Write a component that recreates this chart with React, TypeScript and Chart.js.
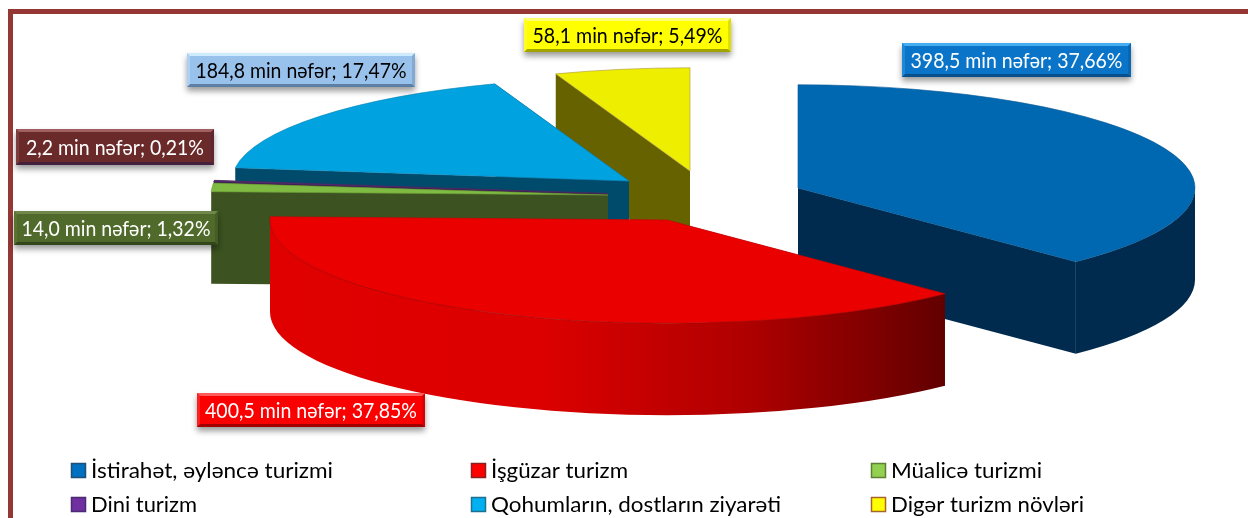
import React, { useEffect, useRef } from "react";
import { Chart, registerables } from "chart.js";

Chart.register(...registerables);

// ---- data ----
const categories = [
  "İstirahət, əyləncə turizmi",
  "İşgüzar turizm",
  "Müalicə turizmi",
  "Dini turizm",
  "Qohumların, dostların ziyarəti",
  "Digər turizm növləri",
];
const visitorValues = [398.5, 400.5, 14.0, 2.2, 184.8, 58.1];
const valueTexts = ["398,5", "400,5", "14,0", "2,2", "184,8", "58,1"];
const percentTexts = ["37,66%", "37,85%", "1,32%", "0,21%", "17,47%", "5,49%"];
const unitText = "min nəfər";

// ---- style ----
const FONT = "Lato";
const topColors = ["#0068B0", "#EB0000", "#7FBA42", "#5F2D7A", "#00A2E0", "#EEEE00"];
const edgeColors = ["#0A5A96", "#C00808", "#6A9A38", "#4A2A60", "#1088B8", "#B09A40"];
const wallColors = ["#002B4E", "#E00000", "#3C5220", "#3A1C50", "#004B6B", "#676200"];
const legendColors = ["#0070C0", "#FF0000", "#92D050", "#7030A0", "#00B0F0", "#FFFF00"];
const legendBorders = ["#1F4E79", "#8B2020", "#5F7F35", "#4A2A70", "#1F6F8F", "#A8652A"];
const centerX = [798, 667, 608, 608, 629, 690];
const centerY = [188, 220, 195, 193.5, 181, 171];
const drawOrder = [5, 4, 3, 2, 0, 1];
const TILT = 0.26;
const DEPTH = 92;
const RADIUS = 397;

const labelBoxes = [
  { x: 902, y: 43, w: 229, h: 34, tw: 212, fs: 22, base: "#0A74C8", hi: "#46AEF0", lo: "#07508C", text: "#FFFFFF" },
  { x: 197, y: 393, w: 228, h: 34, tw: 212, fs: 21, base: "#FB0000", hi: "#FF5A5A", lo: "#A00000", text: "#FFFFFF" },
  { x: 14, y: 211, w: 204, h: 34, tw: 189, fs: 21, base: "#4F6A2A", hi: "#6F8748", lo: "#33451B", text: "#FFFFFF" },
  { x: 16, y: 129, w: 198, h: 36, tw: 178, fs: 21, base: "#6B2A2A", hi: "#A06060", lo: "#44203F", text: "#FFFFFF" },
  { x: 187, y: 53, w: 228, h: 34, tw: 211, fs: 21, base: "#98C2EC", hi: "#CFECFF", lo: "#5C7FA5", text: "#000000" },
  { x: 524, y: 18, w: 207, h: 34, tw: 190, fs: 22, base: "#FFFF00", hi: "#FFFF70", lo: "#A3A300", text: "#000000" },
];
const legendSlots = [
  { x: 71, y: 463, tw: 242 },
  { x: 471, y: 463, tw: 137 },
  { x: 871, y: 463, tw: 151 },
  { x: 71, y: 497, tw: 106 },
  { x: 471, y: 497, tw: 290 },
  { x: 871, y: 497, tw: 193 },
];

function fitText(ctx: CanvasRenderingContext2D, s: string, x: number, y: number, tw: number) {
  const natural = ctx.measureText(s).width;
  ctx.save();
  ctx.translate(x, y);
  ctx.scale(tw / natural, 1);
  ctx.textAlign = "left";
  ctx.textBaseline = "middle";
  ctx.fillText(s, 0, 0);
  ctx.restore();
}

function fillRadialWall(ctx: CanvasRenderingContext2D, cx: number, cy: number, r: number, angle: number) {
  const px = cx + r * Math.cos(angle);
  const py = cy + r * TILT * Math.sin(angle);
  ctx.beginPath();
  ctx.moveTo(cx, cy);
  ctx.lineTo(px, py);
  ctx.lineTo(px, py + DEPTH);
  ctx.lineTo(cx, cy + DEPTH);
  ctx.closePath();
  ctx.fill();
}

const pie3d = {
  id: "pie3d",
  beforeDatasetDraw(chart: any) {
    const ctx: CanvasRenderingContext2D = chart.ctx;
    const arcs = chart.getDatasetMeta(0).data;
    drawOrder.forEach((i) => {
      const arc = arcs[i];
      const cx = centerX[i];
      const cy = centerY[i];
      const r = arc.outerRadius;
      let fill: any = wallColors[i];
      if (i === 1) {
        const g = ctx.createLinearGradient(cx - r, 0, cx + 280, 0);
        g.addColorStop(0, "#E00000");
        g.addColorStop(0.4, "#DC0000");
        g.addColorStop(0.7, "#B00000");
        g.addColorStop(0.88, "#820000");
        g.addColorStop(1, "#600000");
        fill = g;
      }
      ctx.save();
      ctx.fillStyle = fill;
      // radial walls
      fillRadialWall(ctx, cx, cy, r, arc.startAngle);
      fillRadialWall(ctx, cx, cy, r, arc.endAngle);
      // outer curved wall: only the part facing the viewer
      const a = Math.max(arc.startAngle, 0);
      const b = Math.min(arc.endAngle, Math.PI);
      if (a < b) {
        ctx.beginPath();
        ctx.ellipse(cx, cy, r, r * TILT, 0, a, b);
        ctx.ellipse(cx, cy + DEPTH, r, r * TILT, 0, b, a, true);
        ctx.closePath();
        ctx.fill();
      }
      ctx.restore();
      if (i === 1) {
        ctx.save();
        ctx.strokeStyle = "rgba(110,20,20,0.6)";
        ctx.lineWidth = 1;
        ctx.beginPath();
        ctx.ellipse(cx, cy, r, r * TILT, 0, arc.startAngle, arc.endAngle);
        ctx.stroke();
        ctx.restore();
      }
      ctx.save();
      ctx.translate(cx, cy);
      ctx.scale(1, TILT);
      ctx.translate(-arc.x, -arc.y);
      arc.draw(ctx);
      ctx.restore();
    });
    return false;
  },
  afterDraw(chart: any) {
    const ctx: CanvasRenderingContext2D = chart.ctx;
    // frame
    ctx.save();
    ctx.fillStyle = "#953735";
    ctx.fillRect(8, 9, 1240, 5);
    ctx.fillRect(8, 9, 5, 509);
    ctx.restore();

    // data labels
    labelBoxes.forEach((b, i) => {
      ctx.save();
      ctx.shadowColor = "rgba(0,0,0,0.4)";
      ctx.shadowBlur = 6;
      ctx.shadowOffsetY = 4;
      ctx.fillStyle = b.base;
      ctx.fillRect(b.x, b.y, b.w, b.h);
      ctx.restore();
      const bev = 3;
      ctx.save();
      ctx.fillStyle = b.hi;
      ctx.beginPath();
      ctx.moveTo(b.x, b.y);
      ctx.lineTo(b.x + b.w, b.y);
      ctx.lineTo(b.x + b.w - bev, b.y + bev);
      ctx.lineTo(b.x + bev, b.y + bev);
      ctx.closePath();
      ctx.fill();
      ctx.fillStyle = b.lo;
      ctx.beginPath();
      ctx.moveTo(b.x, b.y + b.h);
      ctx.lineTo(b.x + b.w, b.y + b.h);
      ctx.lineTo(b.x + b.w - bev, b.y + b.h - bev);
      ctx.lineTo(b.x + bev, b.y + b.h - bev);
      ctx.closePath();
      ctx.fill();
      ctx.globalAlpha = 0.35;
      ctx.beginPath();
      ctx.moveTo(b.x + b.w, b.y);
      ctx.lineTo(b.x + b.w, b.y + b.h);
      ctx.lineTo(b.x + b.w - bev, b.y + b.h - bev);
      ctx.lineTo(b.x + b.w - bev, b.y + bev);
      ctx.closePath();
      ctx.fill();
      ctx.fillStyle = b.hi;
      ctx.beginPath();
      ctx.moveTo(b.x, b.y);
      ctx.lineTo(b.x, b.y + b.h);
      ctx.lineTo(b.x + bev, b.y + b.h - bev);
      ctx.lineTo(b.x + bev, b.y + bev);
      ctx.closePath();
      ctx.fill();
      ctx.restore();
      ctx.save();
      ctx.fillStyle = b.text;
      ctx.font = `${b.fs}px ${FONT}`;
      const s = `${valueTexts[i]} ${unitText}; ${percentTexts[i]}`;
      fitText(ctx, s, b.x + (b.w - b.tw) / 2, b.y + b.h / 2 + 1, b.tw);
      ctx.restore();
    });

    // legend
    chart.data.labels.forEach((name: string, i: number) => {
      const s = legendSlots[i];
      ctx.save();
      ctx.fillStyle = legendColors[i];
      ctx.strokeStyle = legendBorders[i];
      ctx.lineWidth = 1.5;
      ctx.fillRect(s.x, s.y, 15, 15);
      ctx.strokeRect(s.x + 0.5, s.y + 0.5, 14, 14);
      ctx.fillStyle = "#000000";
      ctx.font = `22px ${FONT}`;
      fitText(ctx, name, s.x + 20, s.y + 8, s.tw);
      ctx.restore();
    });
  },
};

export default function App() {
  const ref = useRef<HTMLCanvasElement | null>(null);
  useEffect(() => {
    if (!ref.current) return;
    const chart = new Chart(ref.current, {
      type: "pie",
      data: {
        labels: categories,
        datasets: [
          {
            data: visitorValues,
            backgroundColor: topColors,
            borderColor: edgeColors,
            borderWidth: 1,
          },
        ],
      },
      options: {
        responsive: false,
        animation: false,
        radius: RADIUS,
        layout: { padding: 0 },
        events: [],
        plugins: { legend: { display: false }, tooltip: { enabled: false } },
      } as any,
      plugins: [pie3d as any],
    });
    return () => chart.destroy();
  }, []);
  return (
    <canvas
      ref={ref}
      width={1248}
      height={518}
      style={{ position: "fixed", left: 0, top: 0, width: 1248, height: 518, background: "#FFFFFF" }}
    />
  );
}
